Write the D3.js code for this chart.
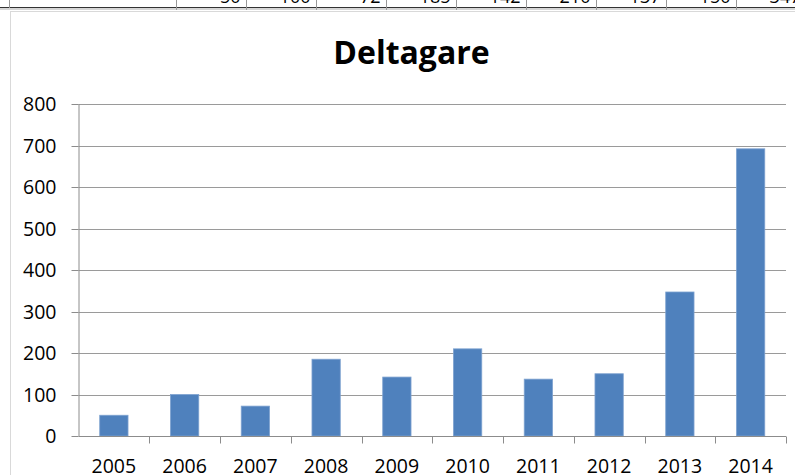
<!DOCTYPE html>
<html>
<head>
<meta charset="utf-8">
<script src="https://cdn.jsdelivr.net/npm/d3@7"></script>
<style>
html,body{margin:0;padding:0;background:#fff;overflow:hidden;}
svg{display:block;}
</style>
</head>
<body>
<svg id="chart" width="795" height="475"></svg>
<script>
const title = "Deltagare";
const categories = ["2005","2006","2007","2008","2009","2010","2011","2012","2013","2014"];
const values = [50, 100, 72, 185, 142, 210, 137, 150, 347, 692];
const yTicks = [0,100,200,300,400,500,600,700,800];

(function(){
const svg = d3.select("#chart");
const font = "'Open Sans', 'Liberation Sans', sans-serif";

// partial spreadsheet row above the chart
const tableX = d3.scaleLinear().domain([0, 1]).range([176.5, 246.5]);
const tbl = svg.append("g");
tbl.append("line").attr("x1",0).attr("x2",795).attr("y1",7.5).attr("y2",7.5).attr("stroke","#333").attr("stroke-width",1);
tbl.append("rect").attr("x",0).attr("y",8).attr("width",795).attr("height",2).attr("fill","#d6d6d6");
tbl.append("line").attr("x1",9.5).attr("x2",9.5).attr("y1",0).attr("y2",8).attr("stroke","#999");
tbl.selectAll("line.cell").data(d3.range(values.length)).join("line")
  .attr("class","cell")
  .attr("x1", i => tableX(i)).attr("x2", i => tableX(i))
  .attr("y1",0).attr("y2",10).attr("stroke","#999");
tbl.selectAll("text").data(values.slice(0, 9)).join("text")
  .attr("x", (d,i) => tableX(i+1) - 6)
  .attr("y", 2.5)
  .attr("text-anchor","end")
  .attr("font-family", font)
  .attr("font-size", 18)
  .attr("fill","#000")
  .text(d => d);

// chart frame
svg.append("rect").attr("x",10.5).attr("y",11.5).attr("width",800).attr("height",480)
  .attr("fill","#fff").attr("stroke","#d9d9d9").attr("stroke-width",1);

const pLeft = 78.5, pRight = 786, pTop = 104, pBottom = 436;
const x = d3.scaleBand().domain(categories).range([pLeft, pRight]).paddingInner(0.6).paddingOuter(0.3);
const xb = d3.scaleBand().domain(categories).range([pLeft, pRight]);
const y = d3.scaleLinear().domain([0, 800]).range([pBottom, pTop]);

// gridlines
svg.append("g").selectAll("line").data(yTicks.filter(t => t > 0)).join("line")
  .attr("x1", pLeft).attr("x2", pRight)
  .attr("y1", d => Math.round(y(d)) + 0.5).attr("y2", d => Math.round(y(d)) + 0.5)
  .attr("stroke", "#9a9a9a").attr("stroke-width", 1);

// bars
svg.append("g").selectAll("rect").data(values).join("rect")
  .attr("x", (d,i) => x(categories[i]))
  .attr("y", d => y(d))
  .attr("width", x.bandwidth())
  .attr("height", d => y(0) - y(d))
  .attr("fill", "#4f81bd")
  .attr("stroke", "#7ea2d0")
  .attr("stroke-width", 0.8);

// y axis
const yAxis = d3.axisLeft(y).tickValues(yTicks).tickSize(7).tickPadding(15);
const gy = svg.append("g").attr("transform", `translate(${pLeft},0)`).call(yAxis);
gy.selectAll("path, line").attr("stroke", "#8c8c8c");
gy.selectAll("text").attr("font-family", font).attr("font-size", 19.5).attr("fill", "#000");
gy.select(".domain").attr("d", `M0.5,${pBottom}V${pTop}`);
gy.selectAll(".tick").attr("transform", d => `translate(0,${Math.round(y(d)) + 0.5})`);

// x axis with ticks at category boundaries
const gx = svg.append("g").attr("transform", `translate(0,${pBottom + 0.5})`);
gx.append("line").attr("x1", pLeft).attr("x2", pRight).attr("stroke", "#8c8c8c");
gx.selectAll("line.t").data(categories).join("line").attr("class","t")
  .attr("x1", d => Math.round(xb(d) + xb.bandwidth()) + 0.5)
  .attr("x2", d => Math.round(xb(d) + xb.bandwidth()) + 0.5)
  .attr("y1", 0).attr("y2", 7).attr("stroke", "#8c8c8c");
gx.selectAll("text").data(categories).join("text")
  .attr("x", d => xb(d) + xb.bandwidth()/2)
  .attr("y", 36.2)
  .attr("text-anchor", "middle")
  .attr("font-family", font).attr("font-size", 19.5).attr("fill", "#000")
  .text(d => d);

// title
svg.append("text").attr("x", 411.5).attr("y", 63.5)
  .attr("text-anchor", "middle")
  .attr("font-family", font).attr("font-weight", "bold").attr("font-size", 32)
  .attr("fill", "#000")
  .text(title);
})();
</script>
</body>
</html>
